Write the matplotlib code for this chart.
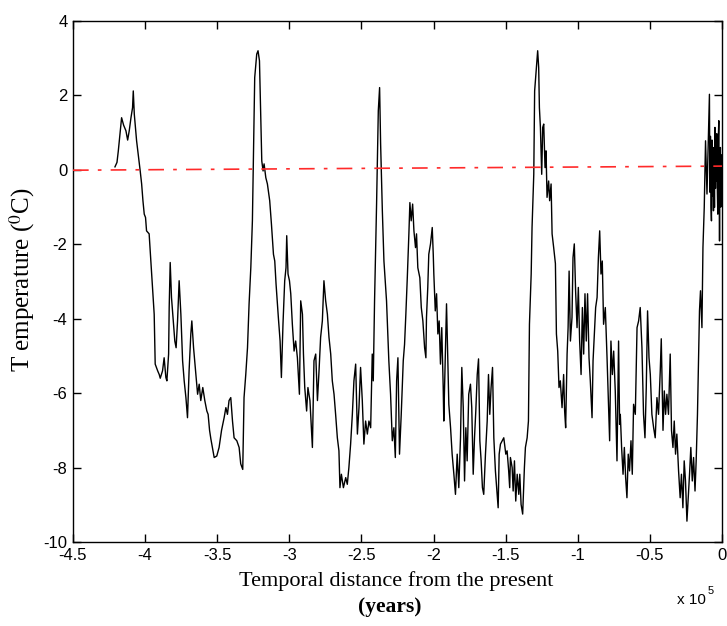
import numpy as np
import matplotlib
matplotlib.use("Agg")
import matplotlib.pyplot as plt

plt.rcParams['axes.unicode_minus'] = False
plt.rcParams['mathtext.fontset'] = 'stix'

# Vostok temperature anomaly (age in kyr before present)
age_kyr = [
    -420.9, -419.5, -418.6, -417.2, -416.3, -414.9, -413.3, -412.1, -411.0, -409.8,
    -408.7, -408.2, -407.5, -405.9, -404.5, -403.4, -402.4, -401.5, -400.6, -399.7,
    -399.0, -397.2, -396.0, -394.8, -393.7, -393.0, -391.3, -390.2, -389.5, -387.9,
    -386.8, -385.6, -384.9, -383.7, -383.3, -382.6, -381.7, -380.5, -379.4, -378.5,
    -377.5, -376.4, -375.2, -374.0, -372.9, -371.7, -370.6, -369.5, -368.3, -367.6,
    -366.4, -365.0, -363.6, -362.5, -361.4, -360.0, -358.6, -357.2, -356.3, -355.3,
    -354.4, -352.1, -350.3, -348.7, -347.0, -345.2, -344.0, -342.9, -341.8, -340.6,
    -339.4, -338.3, -336.4, -334.8, -333.7, -332.3, -331.4, -330.2, -329.0, -327.9,
    -326.7, -325.6, -324.9, -324.0, -322.6, -321.7, -320.7, -319.8, -319.1, -318.2,
    -317.5, -316.3, -315.2, -313.6, -312.4, -311.0, -310.1, -309.2, -307.6, -306.4,
    -305.5, -304.4, -303.2, -302.3, -301.8, -300.9, -299.9, -299.0, -297.9, -296.7,
    -295.6, -294.4, -293.0, -292.1, -290.9, -290.2, -289.3, -288.0, -287.1, -285.7,
    -284.0, -282.9, -281.7, -280.5, -279.4, -278.3, -277.1, -276.0, -274.8, -273.6,
    -272.5, -271.3, -270.2, -269.0, -267.9, -266.7, -265.6, -264.9, -263.9, -262.5,
    -260.9, -259.8, -258.7, -257.5, -256.3, -255.2, -254.0, -252.8, -251.7, -250.6,
    -249.4, -248.3, -247.1, -245.9, -244.8, -243.6, -242.5, -241.8, -240.9, -239.5,
    -238.3, -237.4, -236.7, -235.5, -234.4, -232.6, -231.0, -229.8, -228.6, -227.5,
    -226.5, -225.6, -224.7, -223.6, -222.4, -221.0, -220.1, -219.2, -218.2, -217.1,
    -216.4, -215.5, -214.5, -213.6, -212.5, -211.8, -210.9, -209.5, -208.5, -207.4,
    -206.2, -205.3, -204.9, -204.0, -203.3, -202.1, -200.9, -200.2, -199.8, -198.8,
    -197.9, -197.0, -196.1, -195.2, -194.3, -193.3, -192.9, -191.9, -191.0, -190.3,
    -189.4, -188.2, -187.1, -185.9, -184.8, -183.6, -182.5, -181.3, -180.4, -179.4,
    -178.5, -177.6, -176.7, -175.6, -174.4, -173.5, -172.5, -171.6, -170.7, -169.7,
    -168.8, -167.9, -167.0, -166.1, -165.2, -164.0, -162.8, -161.9, -161.0, -160.1,
    -159.1, -158.2, -157.1, -155.9, -155.2, -154.5, -153.6, -152.4, -151.3, -149.9,
    -149.0, -147.9, -147.2, -146.7, -145.5, -144.8, -143.9, -143.0, -142.0, -140.9,
    -140.2, -139.3, -138.2, -137.0, -136.3, -135.1, -134.2, -133.5, -132.3, -131.7,
    -130.5, -129.9, -128.7, -127.8, -127.1, -126.6, -125.9, -125.0, -124.3, -123.6,
    -122.7, -122.0, -121.3, -120.2, -119.5, -118.5, -117.8, -116.7, -115.5, -114.8,
    -113.9, -113.0, -112.1, -110.9, -109.8, -109.1, -108.4, -107.4, -106.7, -106.0,
    -105.1, -104.0, -103.3, -102.4, -101.5, -100.5, -99.6, -98.7, -97.7, -96.8,
    -95.9, -95.0, -94.1, -93.2, -92.2, -91.3, -90.1, -89.4, -88.5, -87.6,
    -86.6, -85.7, -84.8, -83.9, -83.0, -82.1, -80.9, -79.7, -78.6, -77.9,
    -77.0, -76.0, -75.1, -74.0, -72.8, -71.7, -71.0, -70.5, -69.6, -68.6,
    -67.7, -66.8, -65.9, -65.0, -64.1, -63.1, -62.2, -61.3, -60.1, -58.9,
    -57.8, -56.7, -55.5, -54.4, -53.4, -52.5, -51.6, -50.6, -49.7, -48.6,
    -47.4, -46.3, -45.1, -44.0, -42.8, -42.1, -40.9, -40.0, -39.1, -38.2,
    -37.1, -35.9, -35.0, -34.0, -33.1, -32.2, -31.3, -30.1, -29.0, -28.1,
    -27.1, -26.2, -25.3, -24.3, -23.4, -22.5, -21.6, -20.6, -19.7, -18.7,
    -17.9, -17.0, -16.3, -15.6, -14.9, -13.9, -13.2, -12.3, -11.4, -10.4,
    -9.6, -8.7, -8.4, -8.0, -7.6, -7.3, -6.9, -6.6, -6.3, -5.9,
    -5.6, -5.2, -4.9, -4.5, -4.2, -3.9, -3.6, -3.2, -2.9, -2.5,
    -2.2, -1.9, -1.7, -1.4, -1.1, -0.8, -0.6, -0.3,
]
temp = [
    0.08, 0.2, 0.5, 1.05, 1.4, 1.2, 1.05, 0.8, 1.05, 1.4,
    1.67, 2.12, 1.5, 0.78, 0.33, -0.03, -0.38, -0.83, -1.19, -1.28,
    -1.64, -1.72, -2.45, -3.16, -3.88, -5.22, -5.4, -5.5, -5.6, -5.4,
    -5.05, -5.58, -5.67, -4.95, -3.7, -2.49, -3.43, -4.06, -4.6, -4.78,
    -4.06, -2.98, -3.88, -5.13, -5.67, -6.12, -6.66, -5.4, -4.41, -4.06,
    -4.78, -5.4, -6.03, -5.76, -6.2, -5.85, -6.2, -6.48, -6.57, -7.0,
    -7.23, -7.73, -7.69, -7.46, -7.0, -6.66, -6.39, -6.57, -6.2, -6.12,
    -6.75, -7.2, -7.28, -7.46, -7.9, -8.05, -6.12, -5.5, -4.78, -3.6,
    -2.63, -1.37, 0.33, 2.48, 3.11, 3.2, 2.93, 1.4, 0.24, -0.03,
    0.16, -0.21, -0.38, -0.83, -1.46, -2.27, -2.45, -3.07, -3.97, -4.6,
    -5.58, -4.15, -2.98, -2.63, -1.77, -2.8, -2.98, -3.33, -4.15, -4.87,
    -4.6, -5.05, -6.03, -3.52, -3.88, -4.95, -5.85, -6.48, -5.85, -6.2,
    -7.46, -5.13, -4.95, -6.2, -5.4, -4.5, -4.06, -2.98, -3.52, -3.88,
    -4.5, -4.95, -5.67, -6.03, -6.57, -7.2, -7.55, -8.54, -8.18, -8.54,
    -8.27, -8.45, -8.0, -7.37, -6.57, -5.67, -5.22, -7.1, -6.39, -5.31,
    -6.2, -7.37, -6.75, -7.1, -6.75, -6.93, -4.95, -5.67, -3.52, -0.92,
    1.59, 2.21, 0.7, -1.1, -2.45, -3.52, -5.13, -6.03, -7.28, -6.93,
    -7.73, -5.67, -5.05, -7.64, -6.57, -5.13, -4.69, -3.88, -2.9, -1.72,
    -0.88, -1.37, -0.92, -1.64, -2.09, -1.72, -2.63, -2.9, -3.7, -4.06,
    -4.78, -5.05, -3.97, -3.16, -2.27, -1.99, -1.55, -2.27, -2.8, -3.79,
    -3.33, -4.41, -4.06, -5.22, -4.24, -5.85, -6.75, -5.13, -3.6, -4.78,
    -6.3, -6.93, -7.64, -8.18, -8.72, -7.64, -8.54, -7.2, -5.31, -6.39,
    -8.36, -6.93, -7.82, -6.03, -5.76, -6.39, -8.18, -7.2, -6.48, -5.5,
    -5.08, -7.28, -7.82, -8.54, -8.72, -7.64, -6.75, -5.5, -6.57, -5.85,
    -5.31, -7.2, -8.09, -8.72, -9.08, -7.64, -7.37, -7.28, -7.2, -7.64,
    -7.55, -8.09, -8.54, -7.73, -8.0, -8.63, -7.82, -8.9, -8.18, -8.72,
    -8.18, -8.99, -9.25, -8.0, -7.46, -7.2, -6.75, -4.15, -2.8, -1.55,
    -0.12, 2.12, 2.75, 3.2, 2.75, 1.67, 1.14, -0.12, 1.14, 1.23,
    0.06, 0.51, -0.74, -0.3, -0.83, -0.38, -1.72, -2.09, -2.52, -4.41,
    -4.87, -5.85, -5.67, -6.39, -5.5, -6.48, -6.93, -4.95, -4.24, -2.72,
    -4.6, -3.97, -2.36, -1.99, -3.25, -4.24, -3.16, -4.6, -5.5, -3.7,
    -4.95, -3.33, -4.6, -3.33, -5.05, -5.67, -6.66, -5.13, -4.41, -3.7,
    -3.43, -2.36, -1.64, -2.8, -2.45, -4.15, -3.7, -5.05, -6.39, -7.28,
    -4.6, -5.5, -4.87, -5.94, -7.82, -4.6, -6.84, -6.57, -7.46, -8.18,
    -7.46, -8.27, -8.81, -7.64, -8.09, -7.28, -8.18, -6.3, -6.57, -4.24,
    -4.06, -3.7, -4.78, -6.57, -7.2, -5.85, -3.79, -5.05, -5.5, -6.57,
    -6.93, -7.2, -6.12, -6.57, -5.4, -4.54, -7.0, -5.94, -6.57, -6.03,
    -6.57, -4.95, -7.0, -7.46, -6.75, -7.64, -7.1, -8.09, -8.81, -8.18,
    -9.08, -7.82, -8.36, -9.44, -8.81, -8.18, -7.46, -8.36, -7.73, -8.63,
    -7.82, -6.57, -5.22, -3.79, -3.25, -4.24, -2.09, -1.01, 0.78, -0.65,
    0.6, 2.03, -0.6, 0.9, -1.0, -1.37, 0.8, -0.7, 0.43, -1.1,
    0.6, -1.01, 1.14, -0.5, 0.7, -0.3, 0.97, -0.6, -1.19, 0.9,
    1.32, -0.7, -1.91, 0.2, 0.6, -1.0, -0.3, 0.4,
]

# slight linear trend line (red dash-dot)
trend_x = [-4.5, 0.0]
trend_y = [-0.01, 0.1]

xticks = [-4.5, -4, -3.5, -3, -2.5, -2, -1.5, -1, -0.5, 0]
xticklabels = ['-4.5', '-4', '-3.5', '-3', '-2.5', '-2', '-1.5', '-1', '-0.5', '0']
yticks = [-10, -8, -6, -4, -2, 0, 2, 4]

fig = plt.figure(figsize=(7.27, 6.26), dpi=100)
ax = fig.add_axes([0.1004, 0.1342, 0.8927, 0.8323])

x = np.array(age_kyr) / 100.0   # units of 1e5 years
ax.plot(x, temp, color='black', lw=1.0, zorder=2)
ax.plot(trend_x, trend_y, color='#ff2a2a', lw=1.2,
        dashes=(9.4, 5.5, 2.2, 5.5), zorder=3)

ax.set_xlim(-4.5, 0)
ax.set_ylim(-10, 4)
ax.set_xticks(xticks)
ax.set_xticklabels(xticklabels)
ax.set_yticks(yticks)
ax.tick_params(direction='in', length=6, width=1, top=True, right=True,
               labelsize=12, pad=4)
for lbl in ax.get_xticklabels() + ax.get_yticklabels():
    lbl.set_family('Liberation Sans')
for s in ax.spines.values():
    s.set_linewidth(1.0)

fig.text(396 / 727, 1 - 581 / 626, 'Temporal distance from the present',
         ha='center', va='center', family='Liberation Serif', fontsize=16)
fig.text(390 / 727, 1 - 607 / 626, '(years)', ha='center', va='center',
         family='Liberation Serif', fontweight='bold', fontsize=15.5)
fig.text(22 / 727, 1 - 280 / 626, 'T emperature ($^0$C)', rotation=90,
         ha='center', va='center', family='Liberation Serif', fontsize=18)
fig.text(677 / 727, 1 - 600 / 626, 'x 10', ha='left', va='center',
         family='Liberation Sans', fontsize=11)
fig.text(708 / 727, 1 - 591 / 626, '5', ha='left', va='center',
         family='Liberation Sans', fontsize=8)

fig.savefig('out.png', dpi=100)
